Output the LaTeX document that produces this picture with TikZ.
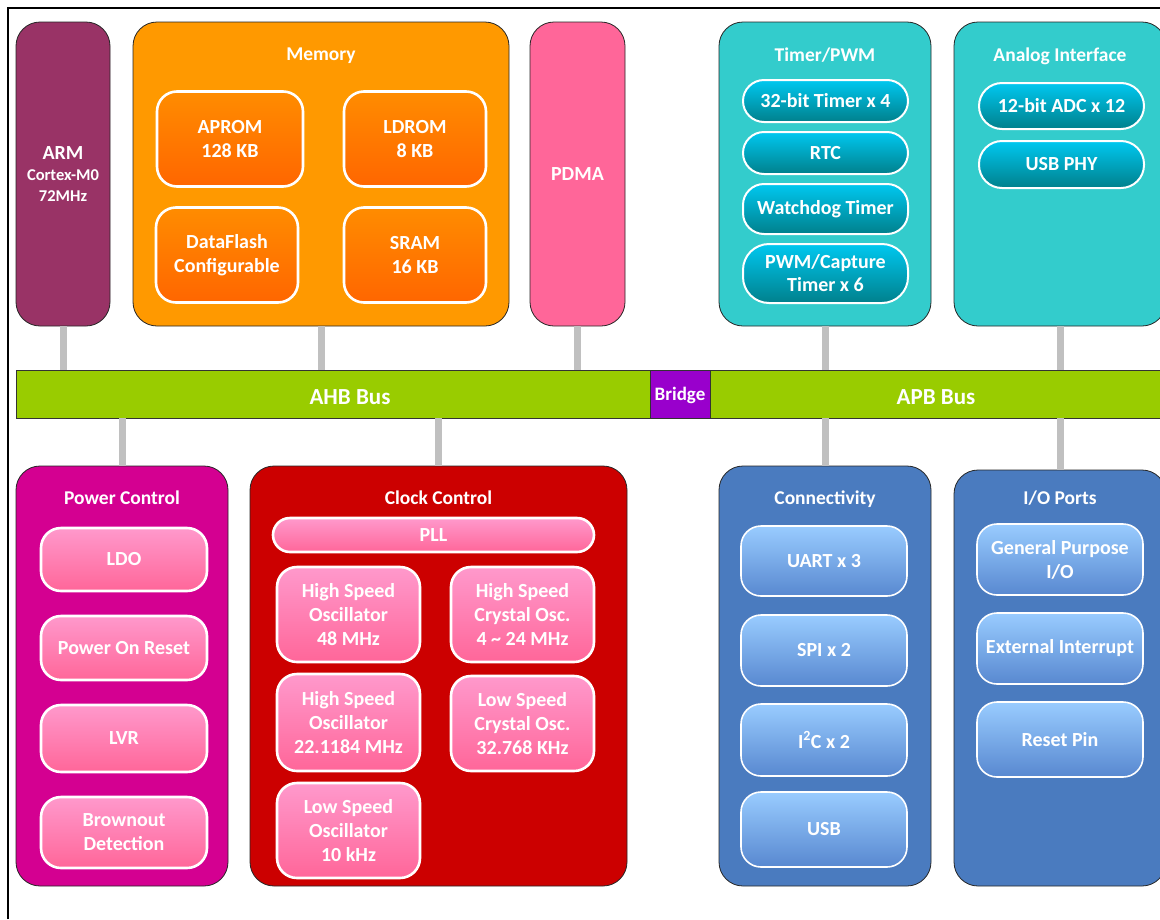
\documentclass[tikz,border=0pt]{standalone}
\usepackage{fontspec}
\setmainfont{Carlito}
\usetikzlibrary{positioning}

\definecolor{armc}{RGB}{153,51,102}
\definecolor{memc}{RGB}{255,153,0}
\definecolor{pdmac}{RGB}{255,102,153}
\definecolor{tealc}{RGB}{51,204,204}
\definecolor{busc}{RGB}{153,204,0}
\definecolor{bridgec}{RGB}{153,0,204}
\definecolor{pwrc}{RGB}{212,0,145}
\definecolor{clkc}{RGB}{204,0,0}
\definecolor{bluec}{RGB}{74,123,191}
\definecolor{linkc}{RGB}{192,192,192}

\tikzset{
  blk/.style={draw=black!85,line width=0.8pt,rounded corners=24pt,inner sep=0pt,text=white,align=center,font=\fontsize{20}{24}\selectfont\bfseries},
  ttl/.style={text=white,text depth=0pt,font=\fontsize{19.5}{22}\selectfont\bfseries},
  bus/.style={draw=black!80,line width=0.8pt,fill=busc,minimum height=48pt,inner sep=0pt,text=white},
  busname/.style={text=white,text depth=0pt,font=\fontsize{23}{26}\selectfont\bfseries},
  unitbox/.style={draw=white,line width=2.6pt,inner sep=0pt,rounded corners=20pt,text=white,align=center,font=\fontsize{20}{24}\selectfont\bfseries},
  memunit/.style={unitbox,top color={rgb,255:red,255;green,140;blue,0},bottom color={rgb,255:red,255;green,102;blue,0}},
  tmrunit/.style={unitbox,line width=2pt,rounded corners=21pt,top color={rgb,255:red,0;green,200;blue,240},bottom color={rgb,255:red,0;green,128;blue,140}},
  pinkunit/.style={unitbox,top color={rgb,255:red,255;green,153;blue,204},bottom color={rgb,255:red,255;green,102;blue,153}},
  blueunit/.style={unitbox,line width=1.6pt,top color={rgb,255:red,153;green,204;blue,255},bottom color={rgb,255:red,88;green,136;blue,208}},
  link/.style={draw=linkc,line width=7pt}
}

\begin{document}
\begin{tikzpicture}[x=1pt,y=-1pt]
\useasboundingbox (0,0) rectangle (1160,919);
\draw[line width=2pt] (8,919) -- (8,8) -- (1160,8);

% top row
\node[blk,fill=armc,minimum width=94pt,minimum height=304pt,font=\fontsize{20}{21}\selectfont\bfseries] (arm) at (63,174)
  {ARM\\\fontsize{16.5}{20}\selectfont Cortex-M0\\\fontsize{16.5}{20}\selectfont 72MHz};
\node[blk,fill=memc,minimum width=376pt,minimum height=304pt] (mem) at (321,174) {};
\node[ttl] (memt) at ([yshift=-33pt]mem.north) {Memory};
\node[memunit,minimum width=146pt,minimum height=95pt] (aprom) at (230,139) {APROM\\128 KB};
\node[memunit,minimum width=142pt,minimum height=95pt] (ldrom) at (415,139) {LDROM\\8 KB};
\node[memunit,minimum width=142pt,minimum height=95pt] (dflash) at (227,255) {DataFlash\\Configurable};
\node[memunit,minimum width=142pt,minimum height=95pt] (sram) at (415,255) {SRAM\\16 KB};
\node[blk,fill=pdmac,minimum width=95pt,minimum height=304pt] (pdma) at (577.5,174) {PDMA};

\node[blk,fill=tealc,minimum width=212pt,minimum height=304pt] (tmr) at (825,174) {};
\node[ttl] (tmrt) at ([yshift=-33pt]tmr.north) {Timer/PWM};
\node[tmrunit,minimum width=165pt,minimum height=42pt] (tmr32) at (825.5,101) {32-bit Timer x 4};
\node[tmrunit,minimum width=165pt,minimum height=42pt] (rtc) at (825.5,153) {RTC};
\node[tmrunit,minimum width=165pt,minimum height=50pt] (wdt) at (825.5,209) {Watchdog Timer};
\node[tmrunit,minimum width=165pt,minimum height=59pt,rounded corners=26pt] (pwm) at (825.5,273.5) {PWM/Capture\\[-1pt]Timer x 6};

\node[blk,fill=tealc,minimum width=212pt,minimum height=304pt] (ana) at (1060,174) {};
\node[ttl] (anat) at ([yshift=-33pt]ana.north) {Analog Interface};
\node[tmrunit,minimum width=165pt,minimum height=46pt,rounded corners=23pt] (adc) at (1061.5,106) {12-bit ADC x 12};
\node[tmrunit,minimum width=165pt,minimum height=47pt,rounded corners=23pt] (usbphy) at (1061.5,164.5) {USB PHY};

% buses
\node[bus,minimum width=634pt] (ahb) at (333,394) {};
\node[busname] (ahbt) at (350,397) {AHB Bus};
\node[bus,fill=bridgec,minimum width=60pt,text depth=0pt,font=\fontsize{19}{22}\selectfont\bfseries] (bridge) at (680,394) {Bridge};
\node[bus,minimum width=456pt] (apb) at (938,394) {};
\node[busname] (apbt) at (936,397) {APB Bus};

% bottom row
\node[blk,fill=pwrc,minimum width=212pt,minimum height=420pt] (pwr) at (122,676) {};
\node[ttl] (pwrt) at ([yshift=-32pt]pwr.north) {Power Control};
\node[pinkunit,minimum width=166pt,minimum height=63pt] (ldo) at (124,559.5) {LDO};
\node[pinkunit,minimum width=166pt,minimum height=64pt] (por) at (124,648) {Power On Reset};
\node[pinkunit,minimum width=166pt,minimum height=67pt] (lvr) at (124,738.5) {LVR};
\node[pinkunit,minimum width=166pt,minimum height=71pt] (bod) at (124,832.5) {Brownout\\Detection};

\node[blk,fill=clkc,minimum width=377pt,minimum height=420pt] (clk) at (438.5,676) {};
\node[ttl] (clkt) at ([yshift=-32pt]clk.north) {Clock Control};
\node[pinkunit,minimum width=321pt,minimum height=34pt,rounded corners=17pt] (pll) at (433.5,535) {PLL};
\node[pinkunit,minimum width=143pt,minimum height=95pt] (hso) at (348.5,614.5) {High Speed\\Oscillator\\48 MHz};
\node[pinkunit,minimum width=143pt,minimum height=95pt] (hsxt) at (522.5,614.5) {High Speed\\Crystal Osc.\\4 \textasciitilde{} 24 MHz};
\node[pinkunit,minimum width=143pt,minimum height=97pt] (hso22) at (348.5,722.5) {High Speed\\Oscillator\\22.1184 MHz};
\node[pinkunit,minimum width=143pt,minimum height=95pt] (lsxt) at (522.5,723.5) {Low Speed\\Crystal Osc.\\32.768 KHz};
\node[pinkunit,minimum width=143pt,minimum height=95pt] (lso) at (348.5,830.5) {Low Speed\\Oscillator\\10 kHz};

\node[blk,fill=bluec,minimum width=212pt,minimum height=420pt] (conn) at (825,676) {};
\node[ttl] (connt) at ([yshift=-32pt]conn.north) {Connectivity};
\node[blueunit,minimum width=166pt,minimum height=70pt] (uart) at (824,561) {UART x 3};
\node[blueunit,minimum width=166pt,minimum height=71pt] (spi) at (824,650.5) {SPI x 2};
\node[blueunit,minimum width=166pt,minimum height=72pt] (iic) at (824,740) {I\textsuperscript{2}C x 2};
\node[blueunit,minimum width=166pt,minimum height=75pt] (usb) at (824,829.5) {USB};

\node[blk,fill=bluec,minimum width=212pt,minimum height=416pt] (io) at (1060,678) {};
\node[ttl] (iot) at (1060,498) {I/O Ports};
\node[blueunit,minimum width=166pt,minimum height=71pt] (gpio) at (1060,559.5) {General Purpose\\I/O};
\node[blueunit,minimum width=166pt,minimum height=71pt] (eint) at (1060,648.5) {External Interrupt};
\node[blueunit,minimum width=166pt,minimum height=75pt] (rstpin) at (1060,739.5) {Reset Pin};

% links to the buses
\path[link] (arm) edge (arm |- ahb.north)
(mem) edge (mem |- ahb.north)
(pdma) edge (pdma |- ahb.north)
(tmr) edge (tmr |- apb.north)
(ana) edge (ana |- apb.north)
(pwr) edge (pwr |- ahb.south)
(clk) edge (clk |- ahb.south)
(conn) edge (conn |- apb.south)
(io) edge (io |- apb.south)
;\end{tikzpicture}
\end{document}
